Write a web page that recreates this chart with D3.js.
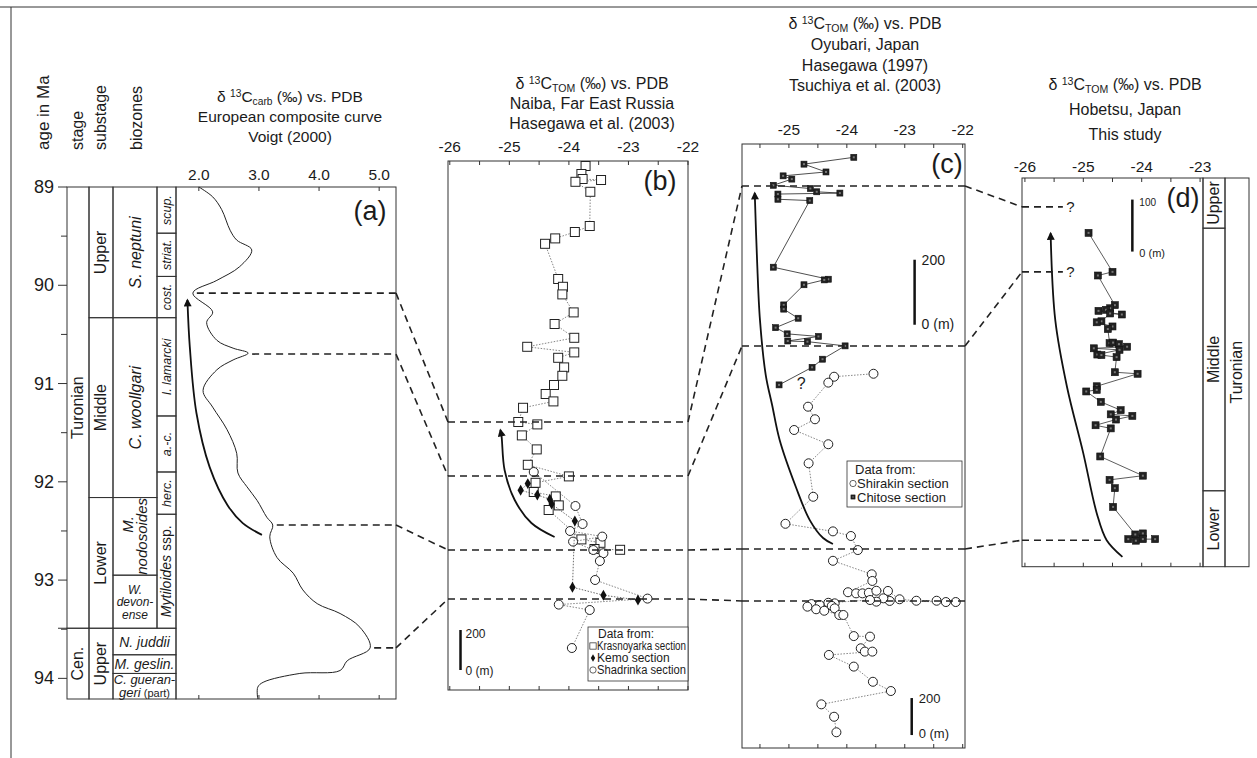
<!DOCTYPE html>
<html>
<head>
<meta charset="utf-8">
<title>Turonian carbon isotope correlation</title>
<script src="https://d3js.org/d3.v7.min.js"></script>
<style>
  body { margin: 0; background: #fff; }
  text { font-family: "Liberation Sans", Arial, sans-serif; fill: #1b1b1b; }
  .frame { fill: none; stroke: #333; stroke-width: 1; }
  .tick { stroke: #333; stroke-width: 1; }
  .dash { fill: none; stroke: #222; stroke-width: 1.6; stroke-dasharray: 7,5; }
  .arrow { fill: none; stroke: #111; stroke-width: 1.8; }
</style>
</head>
<body>
<script>
// ---- data ----
var ageTicks = [89, 90, 91, 92, 93, 94];
var carbTicks = [2.0, 3.0, 4.0, 5.0];
var bTicks = [-26, -25, -24, -23, -22];
var cTicks = [-25, -24, -23, -22];
var dTicks = [-26, -25, -24, -23];

// European composite curve [d13C carb, age Ma]
var carbCurve = [[2.00,89.00],[2.23,89.10],[2.38,89.23],[2.52,89.44],[2.63,89.54],[2.88,89.64],[2.68,89.81],
  [2.30,89.95],[1.90,90.08],[2.23,90.27],[2.13,90.38],[2.30,90.56],[2.57,90.64],[2.82,90.69],[2.57,90.76],
  [2.30,90.86],[2.07,91.07],[2.23,91.24],[2.47,91.47],[2.63,91.71],[2.65,91.91],[2.80,92.05],[2.97,92.19],
  [3.13,92.36],[3.23,92.44],[3.18,92.56],[3.30,92.77],[3.57,92.93],[3.73,93.10],[3.97,93.24],[4.35,93.34],
  [4.68,93.48],[4.85,93.69],[4.47,93.82],[4.35,93.92],[3.68,93.95],[3.07,94.04],[2.98,94.09],[2.98,94.21]];

var stages = [["Turonian", 89, 93.49], ["Cen.", 93.49, 94.21]];
var substages = [["Upper", 89, 90.33], ["Middle", 90.33, 92.16], ["Lower", 92.16, 93.49], ["Upper", 93.49, 94.21]];
var zones = [["S. neptuni", 89, 90.33], ["C. woollgari", 90.33, 92.16], ["M. nodosoides", 92.16, 92.95],
  ["W. devonense", 92.95, 93.49]];
var cenZones = [["N. juddii", 93.49, 93.76], ["M. geslin.", 93.76, 93.95], ["C. gueran-geri (part)", 93.95, 94.21]];
var subzones = [["scup.", 89, 89.47], ["striat.", 89.47, 89.91], ["cost.", 89.91, 90.33], ["I. lamarcki", 90.33, 91.33],
  ["a.-c.", 91.33, 91.90], ["herc.", 91.90, 92.33], ["Mytiloides ssp.", 92.33, 93.49]];

// Naiba [d13C TOM, height m]
var krasnoyarka = [[-23.72,2620],[-23.79,2580],[-23.77,2555],[-23.46,2550],[-23.89,2541],[-23.64,2491],[-23.65,2320],
  [-23.90,2290],[-24.23,2258],[-24.40,2231],[-24.18,2055],[-24.10,2016],[-24.11,1978],[-23.92,1888],[-24.24,1830],
  [-23.91,1761],[-24.70,1716],[-23.91,1688],[-24.18,1661],[-24.08,1613],[-24.11,1571],[-24.25,1525],[-24.39,1480],
  [-24.26,1443],[-24.77,1411],[-24.85,1340],[-24.53,1328],[-24.79,1273],[-24.54,1203],[-24.69,1126],[-24.00,1068],
  [-24.56,1036],[-24.59,990],[-24.22,968],[-24.17,923],[-24.34,900],[-23.79,753],[-23.47,736],[-23.57,705],[-23.14,701]];
var kemo = [[-24.69,1032],[-24.81,999],[-24.53,975],[-24.32,954],[-24.29,930],[-23.90,845],[-23.94,514],[-23.42,474],[-22.84,450]];
var shadrinka = [[-24.59,1090],[-23.89,920],[-23.77,830],[-23.98,795],[-23.44,767],[-23.93,742],[-23.59,700],[-23.42,684],
  [-23.48,645],[-23.56,550],[-22.68,457],[-24.17,427],[-23.65,400],[-23.95,210]];

// Oyubari [d13C TOM, height m]
var chitose = [[-23.88,1817],[-24.74,1796],[-24.36,1772],[-25.10,1760],[-24.95,1750],[-25.27,1731],[-24.63,1721],
  [-24.52,1711],[-24.12,1707],[-25.19,1704],[-25.19,1688],[-24.64,1684],[-25.27,1479],[-24.32,1442],[-24.39,1440],
  [-24.74,1425],[-25.09,1363],[-25.09,1350],[-24.84,1322],[-25.23,1293],[-25.03,1274],[-24.49,1266],[-25.02,1252],
  [-24.68,1250],[-24.03,1237],[-24.42,1196],[-24.60,1171],[-25.17,1117]];
var shirakin = [[-23.54,2023],[-24.22,2007],[-24.32,1975],[-24.67,1845],[-24.55,1777],[-24.91,1719],[-24.32,1642],
  [-24.66,1539],[-24.58,1358],[-25.06,1212],[-24.24,1171],[-23.93,1146],[-23.81,1070],[-24.24,1012],[-23.57,939],
  [-23.56,903],[-23.98,842],[-23.84,836],[-23.73,836],[-23.62,839],[-23.49,850],[-23.29,849],[-23.09,804],[-22.80,796],
  [-22.45,796],[-22.29,789],[-22.12,789],[-23.26,795],[-23.37,809],[-23.49,791],[-23.60,800],[-24.32,785],[-24.21,782],
  [-24.61,778],[-24.47,773],[-24.26,768],[-24.68,764],[-24.21,755],[-24.53,750],[-24.39,742],[-24.13,719],[-24.06,719],
  [-23.88,605],[-23.60,602],[-23.76,539],[-23.69,521],[-23.56,521],[-24.31,503],[-23.88,440],[-23.55,358],[-23.24,308],
  [-24.44,236],[-24.22,169],[-24.18,85]];

// Hobetsu [d13C TOM, height m]
var hobetsu = [[-24.91,642],[-24.50,567],[-24.75,560],[-24.46,503],[-24.54,497],[-24.61,494],[-24.74,492],[-24.34,485],
  [-24.54,487],[-24.69,472],[-24.77,470],[-24.50,462],[-24.58,457],[-24.55,430],[-24.49,431],[-24.39,428],[-24.25,423],
  [-24.82,420],[-24.38,417],[-24.76,408],[-24.69,407],[-24.43,403],[-24.46,374],[-24.07,371],[-24.77,347],[-24.77,340],
  [-24.95,337],[-24.70,317],[-24.36,301],[-24.53,293],[-24.16,290],[-24.44,283],[-24.79,272],[-24.53,266],[-24.71,212],
  [-23.98,175],[-24.55,167],[-24.46,151],[-24.49,115],[-24.11,62],[-23.98,64],[-24.23,53],[-24.10,50],[-23.98,53],[-23.77,53]];
var dSubstages = [["Upper", 651, 747.5], ["Middle", 146, 651], ["Lower", 0, 146]];

// trend arrows, listed from tail to tip
var aArrow = [[3.05,92.54],[2.73,92.42],[2.48,92.24],[2.18,91.85],[1.96,91.30],[1.85,90.63],[1.81,90.15]];
var bArrow = [[-24.24,765],[-24.63,835],[-24.91,950],[-25.08,1100],[-25.13,1267],[-25.15,1300]];
var cArrow = [[-24.24,1103],[-24.41,1135],[-24.64,1232],[-24.88,1411],[-25.16,1665],[-25.29,1854],[-25.40,2016],
  [-25.50,2314],[-25.55,2638],[-25.59,3000]];
var dArrow = [[-24.33,19],[-24.60,51],[-24.77,103],[-25.00,218],[-25.28,346],[-25.48,474],[-25.56,641]];

// correlation levels
var aLevels = [[1.90,90.08],[2.82,90.70],[3.23,92.44],[4.85,93.69]];
var bLevels = [1340, 1070, 700, 455];
var cLevels = [3038, 2173, 1076, 795];
var dLevels = [692, 567, 51];

// ---- drawing ----
var svg = d3.select("body").append("svg").attr("width", 1257).attr("height", 758);
svg.append("defs").append("marker").attr("id", "head")
  .attr("viewBox", "0 0 10 10").attr("refX", 8).attr("refY", 5)
  .attr("markerWidth", 10).attr("markerHeight", 8).attr("markerUnits", "userSpaceOnUse")
  .attr("orient", "auto")
  .append("path").attr("d", "M0,0L10,5L0,10z").attr("fill", "#111");

svg.append("line").attr("class", "frame").attr("x1", 0).attr("x2", 1257).attr("y1", 7).attr("y2", 7);
svg.append("line").attr("class", "frame").attr("x1", 11).attr("x2", 11).attr("y1", 7).attr("y2", 758);

var age = d3.scaleLinear().domain([89, 94.21]).range([187, 699]);
var xA = d3.scaleLinear().domain([1.62, 5.28]).range([176, 396]);
var xB = d3.scaleLinear().domain([-26.03, -22]).range([448, 688]);
var yB = d3.scaleLinear().domain([0, 2645]).range([690, 161]);
var xC = d3.scaleLinear().domain([-25.81, -21.96]).range([742, 965]);
var yCs = d3.scaleLinear().domain([0, 3265]).range([748, 144]);
var yCc = d3.scaleLinear().domain([0, 1858]).range([748, 144]);
var xD = d3.scaleLinear().domain([-26.05, -22.95]).range([1022, 1203]);
var yD = d3.scaleLinear().domain([0, 747.5]).range([566.7, 178]);

function vtext(x, y, str, size, anchor) {
  return svg.append("text")
    .attr("transform", "translate(" + (x + size * 0.36) + "," + y + ") rotate(-90)")
    .attr("text-anchor", anchor || "middle").attr("font-size", size).text(str);
}

function isoTitle(x, y, sub, size) {
  var t = svg.append("text").attr("x", x).attr("y", y).attr("text-anchor", "middle").attr("font-size", size);
  t.append("tspan").text("\u03b4 ");
  t.append("tspan").attr("font-size", size * 0.66).attr("dy", -5).text("13");
  t.append("tspan").attr("dy", 5).text("C");
  t.append("tspan").attr("font-size", size * 0.66).attr("dy", 3).text(sub);
  t.append("tspan").attr("dy", -3).text(" (\u2030) vs. PDB");
}

function lines(x, y, arr, step, size) {
  arr.forEach(function(s, i) {
    svg.append("text").attr("x", x).attr("y", y + i * step).attr("text-anchor", "middle")
      .attr("font-size", size).text(s);
  });
}

function frame(x0, x1, y0, y1) {
  svg.append("rect").attr("class", "frame").attr("x", x0).attr("y", y0)
    .attr("width", x1 - x0).attr("height", y1 - y0);
}

function hticks(scale, ticks, yTop, yBot, len) {
  ticks.forEach(function(v) {
    svg.append("line").attr("class", "tick").attr("x1", scale(v)).attr("x2", scale(v))
      .attr("y1", yTop).attr("y2", yTop + len);
    svg.append("line").attr("class", "tick").attr("x1", scale(v)).attr("x2", scale(v))
      .attr("y1", yBot).attr("y2", yBot - len);
  });
}

function tickLabels(scale, ticks, y, fmt) {
  ticks.forEach(function(v) {
    svg.append("text").attr("x", scale(v)).attr("y", y).attr("text-anchor", "middle")
      .attr("font-size", 15.5).text(fmt ? fmt(v) : v);
  });
}

function series(data, xs, ys, lineStyle, marker) {
  svg.append("path").datum(data)
    .attr("d", d3.line().x(function(d) { return xs(d[0]); }).y(function(d) { return ys(d[1]); }))
    .attr("fill", "none").attr("stroke", lineStyle.color).attr("stroke-width", lineStyle.width)
    .attr("stroke-dasharray", lineStyle.dash);
  var g = svg.append("g");
  data.forEach(function(d) { marker(g, xs(d[0]), ys(d[1])); });
}

function openSquare(g, x, y) {
  g.append("rect").attr("x", x - 4.5).attr("y", y - 4.5).attr("width", 9).attr("height", 9)
    .attr("fill", "#fff").attr("stroke", "#222").attr("stroke-width", 1);
}
function openCircle(g, x, y) {
  g.append("circle").attr("cx", x).attr("cy", y).attr("r", 4.5)
    .attr("fill", "#fff").attr("stroke", "#222").attr("stroke-width", 1);
}
function diamond(g, x, y) {
  g.append("path").attr("transform", "translate(" + x + "," + y + ")")
    .attr("d", d3.symbol(d3.symbolDiamond, 34)()).attr("fill", "#111");
}
function filledSquare(size) {
  return function(g, x, y) {
    g.append("rect").attr("x", x - size / 2).attr("y", y - size / 2).attr("width", size).attr("height", size)
      .attr("fill", "#222").attr("stroke", "#111").attr("stroke-width", 0.6);
    g.append("rect").attr("x", x - 1).attr("y", y - 1).attr("width", 2).attr("height", 2).attr("fill", "#777");
  };
}

function arrow(data, xs, ys) {
  svg.append("path").datum(data).attr("class", "arrow")
    .attr("d", d3.line().curve(d3.curveCatmullRom).x(function(d) { return xs(d[0]); }).y(function(d) { return ys(d[1]); }))
    .attr("marker-end", "url(#head)");
}

function dashLine(x1, y1, x2, y2) {
  svg.append("line").attr("class", "dash").attr("x1", x1).attr("y1", y1).attr("x2", x2).attr("y2", y2);
}

// ---------- panel (a) ----------
var colX = [67, 89, 113, 157, 176];
vtext(43, 150, "age in Ma", 17, "start");
vtext(77, 150, "stage", 16, "start");
vtext(100, 150, "substage", 16, "start");
vtext(136, 150, "biozones", 16, "start");

isoTitle(290, 102, "carb", 15.5);
lines(290, 122, ["European composite curve", "Voigt (2000)"], 19.5, 15.5);
tickLabels(xA, carbTicks, 180, d3.format(".1f"));

d3.range(89, 94.01, 0.5).forEach(function(v) {
  var major = Math.abs(v - Math.round(v)) < 1e-6;
  svg.append("line").attr("class", "tick").attr("x1", major ? 58 : 61).attr("x2", 67)
    .attr("y1", age(v)).attr("y2", age(v));
});
ageTicks.forEach(function(v) {
  svg.append("text").attr("x", 54).attr("y", age(v) + 6).attr("text-anchor", "end")
    .attr("font-size", 18).text(v);
});

// stratigraphic columns
function cells(rows, x0, x1) {
  rows.forEach(function(r) {
    frame(x0, x1, age(r[1]), age(r[2]));
  });
}
cells(stages, colX[0], colX[1]);
cells(substages, colX[1], colX[2]);
cells(zones, colX[2], colX[3]);
cells(cenZones, colX[2], colX[4]);
cells(subzones, colX[3], colX[4]);
frame(colX[4], xA.range()[1], age(89), age.range()[1]);
svg.append("line").attr("class", "tick").attr("x1", 58).attr("x2", 67)
  .attr("y1", age(stages[1][1])).attr("y2", age(stages[1][1]));

function mid(r) { return age((r[1] + r[2]) / 2); }
stages.forEach(function(r) { vtext(77, mid(r), r[0], 16); });
substages.forEach(function(r) { vtext(100, mid(r), r[0], 16); });

// turonian zones
vtext(135, mid(zones[0]), zones[0][0], 16).attr("font-style", "italic");
vtext(135, mid(zones[1]), zones[1][0], 16).attr("font-style", "italic");
var nod = zones[2][0].split(" ");
vtext(128, mid(zones[2]) - 12, nod[0], 15).attr("font-style", "italic");
vtext(142, mid(zones[2]), nod[1], 15).attr("font-style", "italic");
var dev = zones[3][0].replace("devonense", "devon-|ense").split(/ |\|/);
dev.forEach(function(s, i) {
  svg.append("text").attr("x", 135).attr("y", mid(zones[3]) - 8 + i * 12.5).attr("text-anchor", "middle")
    .attr("font-size", 12).attr("font-style", "italic").text(s);
});
// cenomanian zones (horizontal)
cenZones.forEach(function(r, i) {
  var cx = (colX[2] + colX[4]) / 2;
  if (r[0].indexOf("(part)") < 0) {
    svg.append("text").attr("x", cx).attr("y", mid(r) + 5).attr("text-anchor", "middle")
      .attr("font-size", 14).attr("font-style", "italic").text(r[0]);
  } else {
    var parts = r[0].split("-");
    svg.append("text").attr("x", cx).attr("y", mid(r) - 2).attr("text-anchor", "middle")
      .attr("font-size", 13).attr("font-style", "italic").text(parts[0] + "-");
    var t = svg.append("text").attr("x", cx).attr("y", mid(r) + 11).attr("text-anchor", "middle").attr("font-size", 13);
    t.append("tspan").attr("font-style", "italic").text(parts[1].replace(" (part)", ""));
    t.append("tspan").attr("font-size", 11).text(" (part)");
  }
});
// sub-zones
subzones.forEach(function(r) {
  var t = vtext(166, mid(r), "", 12.5);
  if (r[0].indexOf("ssp.") > 0) {
    t.append("tspan").attr("font-style", "italic").attr("font-size", 14).text(r[0].replace(" ssp.", ""));
    t.append("tspan").attr("font-size", 14).text(" ssp.");
  } else {
    t.attr("font-style", "italic").text(r[0]);
  }
});

hticks(xA, carbTicks, age(89), age.range()[1], 4);
svg.append("path").datum(carbCurve)
  .attr("d", d3.line().curve(d3.curveCatmullRom).x(function(d) { return xA(d[0]); }).y(function(d) { return age(d[1]); }))
  .attr("fill", "none").attr("stroke", "#222").attr("stroke-width", 1);
arrow(aArrow, xA, age);
svg.append("text").attr("x", 370).attr("y", 220).attr("text-anchor", "middle").attr("font-size", 27).text("(a)");

// ---------- panel (b) ----------
isoTitle(592, 89, "TOM", 16);
lines(592, 109, ["Naiba, Far East Russia", "Hasegawa et al. (2003)"], 20, 16);
tickLabels(xB, bTicks, 152);
frame(xB.range()[0], xB.range()[1], yB.range()[1], yB.range()[0]);
hticks(xB, d3.range(-26, -21.9, 0.5), yB.range()[1], yB.range()[0], 4);
series(krasnoyarka, xB, yB, { color: "#666", width: 0.8, dash: "1.5,1.5" }, openSquare);
series(shadrinka, xB, yB, { color: "#666", width: 0.8, dash: "1.5,1.5" }, openCircle);
series(kemo, xB, yB, { color: "#444", width: 0.8, dash: "1.5,1.5" }, diamond);
arrow(bArrow, xB, yB);
svg.append("text").attr("x", 660).attr("y", 190).attr("text-anchor", "middle").attr("font-size", 27).text("(b)");
// scale bar
svg.append("line").attr("x1", xB(-25.82)).attr("x2", xB(-25.82)).attr("y1", yB(100)).attr("y2", yB(300))
  .attr("stroke", "#111").attr("stroke-width", 2.5);
svg.append("text").attr("x", xB(-25.82) + 5).attr("y", yB(300) + 8).attr("font-size", 12).text("200");
svg.append("text").attr("x", xB(-25.82) + 5).attr("y", yB(100) + 5).attr("font-size", 12).text("0 (m)");
// legend
(function() {
  var x0 = 588, y0 = 627;
  svg.append("rect").attr("x", x0).attr("y", y0).attr("width", 100).attr("height", 54)
    .attr("fill", "#fff").attr("stroke", "#333").attr("stroke-width", 0.8);
  svg.append("text").attr("x", x0 + 10).attr("y", y0 + 11).attr("font-size", 12).text("Data from:");
  var items = [["Krasnoyarka section", openSquare], ["Kemo section", diamond], ["Shadrinka section", openCircle]];
  items.forEach(function(it, i) {
    var yy = y0 + 23 + i * 12;
    var g = svg.append("g").attr("transform", "translate(" + (x0 + 5) + "," + (yy - 4) + ") scale(0.7)");
    it[1](g, 0, 0);
    var t = svg.append("text").attr("x", x0 + 9).attr("y", yy).attr("font-size", 12).text(it[0]);
    if (t.node().getComputedTextLength() > 89) t.attr("textLength", 89).attr("lengthAdjust", "spacingAndGlyphs");
  });
})();

// ---------- panel (c) ----------
isoTitle(865, 29, "TOM", 16);
lines(865, 50, ["Oyubari, Japan", "Hasegawa (1997)", "Tsuchiya et al. (2003)"], 20.5, 16);
tickLabels(xC, cTicks, 135);
frame(xC.range()[0], xC.range()[1], yCs.range()[1], yCs.range()[0]);
hticks(xC, d3.range(-25.5, -21.9, 0.5), yCs.range()[1], yCs.range()[0], 4);
series(shirakin, xC, yCs, { color: "#666", width: 0.8, dash: "1.5,1.5" }, openCircle);
series(chitose, xC, yCc, { color: "#222", width: 0.8, dash: null }, filledSquare(6));
arrow(cArrow, xC, yCs);
svg.append("text").attr("x", 947).attr("y", 173).attr("text-anchor", "middle").attr("font-size", 27).text("(c)");
svg.append("text").attr("x", xC(-24.79)).attr("y", yCc(1124) + 6).attr("text-anchor", "middle").attr("font-size", 16).text("?");
// scale bars
svg.append("line").attr("x1", xC(-22.83)).attr("x2", xC(-22.83)).attr("y1", yCc(1302)).attr("y2", yCc(1502))
  .attr("stroke", "#111").attr("stroke-width", 2.5);
svg.append("text").attr("x", xC(-22.83) + 7).attr("y", yCc(1502) + 5).attr("font-size", 14).text("200");
svg.append("text").attr("x", xC(-22.83) + 7).attr("y", yCc(1302) + 4).attr("font-size", 14).text("0 (m)");
svg.append("line").attr("x1", xC(-22.88)).attr("x2", xC(-22.88)).attr("y1", yCs(70)).attr("y2", yCs(270))
  .attr("stroke", "#111").attr("stroke-width", 2.5);
svg.append("text").attr("x", xC(-22.88) + 7).attr("y", yCs(270) + 5).attr("font-size", 13).text("200");
svg.append("text").attr("x", xC(-22.88) + 7).attr("y", yCs(70) + 3).attr("font-size", 13).text("0 (m)");
// legend
(function() {
  var x0 = 847, y0 = 461;
  svg.append("rect").attr("x", x0).attr("y", y0).attr("width", 115).attr("height", 46)
    .attr("fill", "#fff").attr("stroke", "#333").attr("stroke-width", 0.8);
  svg.append("text").attr("x", x0 + 8).attr("y", y0 + 13).attr("font-size", 13).text("Data from:");
  var items = [["Shirakin section", openCircle], ["Chitose section", filledSquare(6)]];
  items.forEach(function(it, i) {
    var yy = y0 + 27 + i * 13.5;
    var g = svg.append("g").attr("transform", "translate(" + (x0 + 6) + "," + (yy - 4.5) + ") scale(0.7)");
    it[1](g, 0, 0);
    var t = svg.append("text").attr("x", x0 + 10).attr("y", yy).attr("font-size", 13).text(it[0]);
    if (t.node().getComputedTextLength() > 103) t.attr("textLength", 103).attr("lengthAdjust", "spacingAndGlyphs");
  });
})();

// ---------- panel (d) ----------
isoTitle(1125, 90, "TOM", 16);
lines(1125, 115, ["Hobetsu, Japan", "This study"], 24.5, 16);
tickLabels(xD, dTicks, 172);
frame(xD.range()[0], xD.range()[1], yD.range()[1], yD.range()[0]);
hticks(xD, d3.range(-26, -22.99, 0.5), yD.range()[1], yD.range()[0], 4);
dSubstages.forEach(function(r) {
  frame(1203, 1225, yD(r[2]), yD(r[1]));
  vtext(1213, yD((r[1] + r[2]) / 2), r[0], 16);
});
frame(1225, 1249, yD.range()[1], yD.range()[0]);
vtext(1236, yD(374), "Turonian", 16);
series(hobetsu, xD, yD, { color: "#333", width: 0.8, dash: null }, filledSquare(7));
arrow(dArrow, xD, yD);
svg.append("text").attr("x", 1183).attr("y", 207).attr("text-anchor", "middle").attr("font-size", 27).text("(d)");
svg.append("line").attr("x1", xD(-24.16)).attr("x2", xD(-24.16)).attr("y1", yD(606)).attr("y2", yD(706))
  .attr("stroke", "#111").attr("stroke-width", 2.5);
svg.append("text").attr("x", xD(-24.16) + 7).attr("y", yD(706) + 6).attr("font-size", 10).text("100");
svg.append("text").attr("x", xD(-24.16) + 7).attr("y", yD(606) + 5).attr("font-size", 11).text("0 (m)");

// ---------- correlation lines ----------
aLevels.forEach(function(l, i) {
  dashLine(xA(l[0]) + 4, age(l[1]), xA.range()[1], age(l[1]));
  dashLine(xA.range()[1], age(l[1]), xB.range()[0], yB(bLevels[i]));
});
bLevels.forEach(function(h, i) {
  dashLine(xB.range()[0], yB(h), xB.range()[1], yB(h));
  dashLine(xB.range()[1], yB(h), xC.range()[0], yCs(cLevels[i]));
});
cLevels.forEach(function(h, i) {
  dashLine(xC.range()[0], yCs(h), xC.range()[1], yCs(h));
  if (i < dLevels.length) dashLine(xC.range()[1], yCs(h), xD.range()[0], yD(dLevels[i]));
});
dLevels.forEach(function(h, i) {
  var end = i < 2 ? xD(-25.35) : xD(-24.7);
  dashLine(xD.range()[0], yD(h), end, yD(h));
  if (i < 2) svg.append("text").attr("x", xD(-25.22)).attr("y", yD(h) + 5).attr("text-anchor", "middle")
    .attr("font-size", 15).text("?");
});
</script>
</body>
</html>
